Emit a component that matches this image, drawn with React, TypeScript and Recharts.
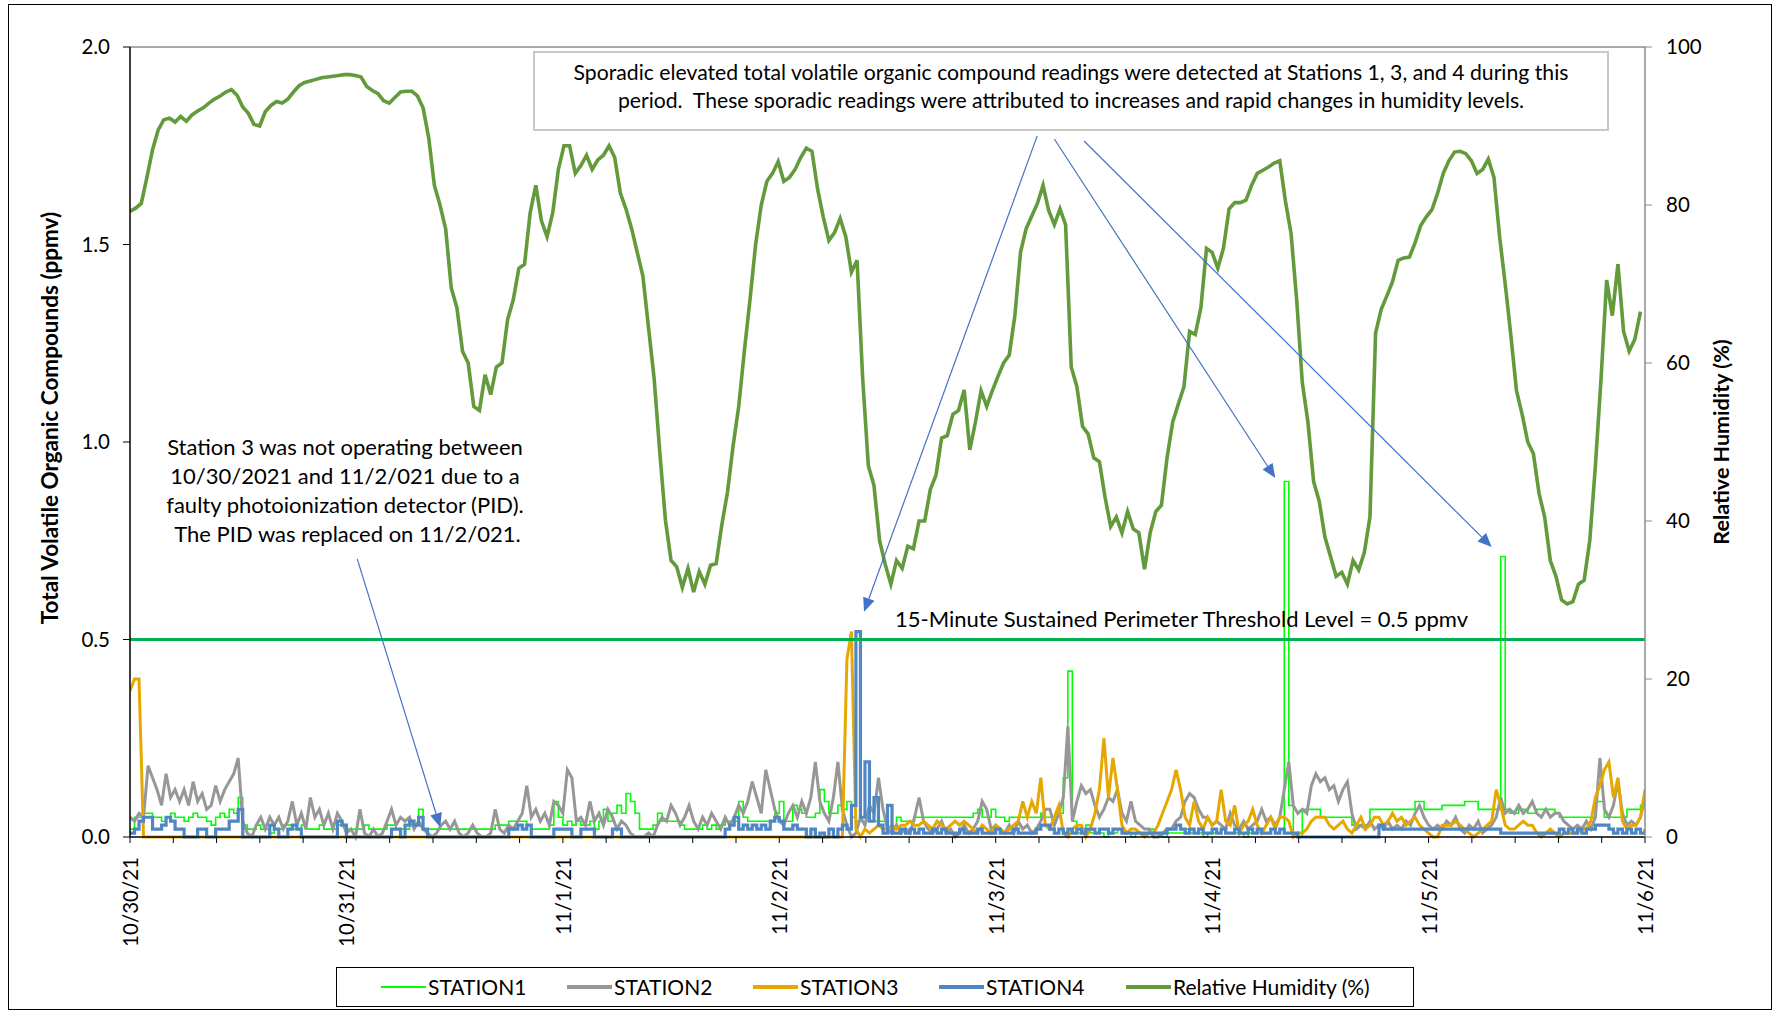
import { LineChart, Line, XAxis, YAxis, ReferenceLine } from 'recharts'

const dayLabels = ['10/30/21', '10/31/21', '11/1/21', '11/2/21', '11/3/21', '11/4/21', '11/5/21', '11/6/21']
const ppmvTicks = [0, 0.5, 1, 1.5, 2]
const rhTicks = [0, 20, 40, 60, 80, 100]
const threshold = 0.5

// station readings every 30 min from 10/30 00:00, in hundredths of a ppmv
const station1 = [
  2, 5, 5, 6, 6, 5, 5, 4, 5, 6,
  5, 5, 4, 5, 6, 5, 5, 4, 3, 5,
  6, 5, 7, 6, 10, 3, 2, 2, 3, 2,
  2, 1, 2, 2, 3, 3, 2, 2, 3, 2,
  2, 2, 3, 2, 2, 2, 3, 3, 2, 2,
  2, 2, 3, 2, 2, 2, 2, 3, 3, 2,
  2, 2, 3, 3, 7, 2, 2, 2, 2, 2,
  2, 2, 2, 2, 2, 2, 2, 2, 2, 2,
  2, 3, 3, 3, 4, 4, 4, 4, 3, 2,
  2, 2, 2, 3, 9, 5, 3, 4, 3, 4,
  3, 3, 4, 2, 4, 7, 4, 6, 8, 6,
  11, 9, 6, 2, 2, 2, 3, 6, 4, 4,
  4, 4, 3, 2, 2, 2, 2, 3, 2, 3,
  2, 3, 4, 4, 4, 9, 5, 4, 4, 4,
  4, 4, 4, 6, 9, 4, 4, 8, 7, 6,
  5, 5, 6, 12, 9, 6, 6, 8, 7, 9,
  5, 4, 4, 4, 4, 4, 4, 4, 1, 2,
  5, 4, 4, 4, 5, 5, 5, 5, 5, 5,
  5, 5, 5, 5, 5, 5, 5, 6, 7, 5,
  5, 7, 5, 5, 4, 5, 5, 5, 5, 5,
  5, 5, 6, 5, 5, 5, 6, 15, 42, 4,
  1, 1, 3, 1, 1, 1, 0, 1, 1, 2,
  1, 1, 0, 1, 1, 1, 2, 1, 1, 0,
  1, 1, 1, 1, 2, 1, 1, 1, 0, 1,
  1, 1, 2, 1, 1, 1, 1, 0, 1, 1,
  1, 1, 1, 2, 1, 2, 90, 8, 1, 0,
  7, 7, 7, 7, 5, 5, 5, 5, 5, 5,
  5, 3, 3, 3, 3, 7, 7, 7, 7, 7,
  7, 7, 7, 7, 7, 9, 9, 7, 7, 7,
  7, 8, 8, 8, 8, 8, 9, 9, 9, 7,
  7, 7, 7, 7, 71, 7, 6, 6, 7, 7,
  6, 6, 7, 7, 7, 7, 6, 5, 5, 5,
  5, 5, 5, 5, 5, 9, 9, 5, 5, 5,
  5, 5, 7, 7, 7, 8, 9,
]

const station2 = [
  5, 4, 6, 5, 18, 15, 12, 8, 16, 10,
  12, 9, 12, 8, 14, 9, 11, 7, 8, 13,
  9, 12, 14, 16, 20, 4, 1, 0, 3, 5,
  2, 5, 3, 5, 2, 4, 9, 3, 6, 2,
  10, 5, 7, 3, 6, 2, 6, 4, 1, 2,
  0, 7, 1, 0, 2, 0, 1, 4, 7, 3,
  5, 4, 5, 2, 4, 2, 1, 0, 1, 3,
  4, 2, 4, 1, 0, 1, 3, 1, 0, 0,
  1, 7, 2, 1, 3, 2, 4, 6, 13, 5,
  7, 4, 6, 3, 9, 8, 6, 17, 15, 4,
  5, 3, 9, 4, 6, 3, 7, 5, 2, 4,
  3, 1, 0, 0, 0, 1, 0, 3, 5, 4,
  8, 6, 3, 5, 8, 4, 2, 5, 3, 6,
  4, 2, 5, 3, 5, 8, 6, 9, 14, 10,
  6, 17, 12, 7, 4, 3, 6, 8, 5, 9,
  6, 10, 19, 9, 6, 4, 10, 19, 7, 3,
  0, 1, 5, 3, 8, 6, 15, 7, 2, 1,
  3, 1, 2, 1, 5, 10, 4, 2, 1, 2,
  4, 1, 2, 0, 1, 3, 1, 2, 4, 9,
  7, 2, 3, 2, 1, 3, 1, 4, 2, 3,
  1, 2, 4, 7, 7, 3, 6, 10, 28, 4,
  9, 13, 11, 12, 8, 5, 7, 10, 9, 12,
  6, 4, 9, 4, 3, 2, 2, 0, 0, 1,
  2, 2, 4, 5, 9, 11, 10, 7, 5, 5,
  3, 4, 3, 2, 6, 3, 2, 4, 2, 3,
  4, 7, 4, 5, 3, 5, 12, 19, 8, 6,
  7, 6, 13, 16, 14, 15, 12, 13, 9, 12,
  14, 6, 2, 3, 2, 4, 2, 3, 2, 4,
  2, 3, 2, 4, 3, 6, 8, 5, 3, 2,
  3, 2, 4, 3, 5, 2, 1, 3, 2, 4,
  1, 2, 3, 5, 10, 6, 7, 6, 8, 6,
  7, 9, 6, 5, 7, 5, 6, 6, 4, 3,
  2, 3, 2, 4, 2, 5, 20, 7, 5, 8,
  14, 6, 3, 4, 3, 5, 10,
]

// station 3 was down from 10/30 to 11/2 and reads 0 there
const station3 = [
  37, 40, 40, 0,
  0, 0, 0, 0, 0, 0, 0, 0, 0, 0,
  0, 0, 0, 0, 0, 0, 0, 0, 0, 0,
  0, 0, 0, 0, 0, 0, 0, 0, 0, 0,
  0, 0, 0, 0, 0, 0, 0, 0, 0, 0,
  0, 0, 0, 0, 0, 0, 0, 0, 0, 0,
  0, 0, 0, 0, 0, 0, 0, 0, 0, 0,
  0, 0, 0, 0, 0, 0, 0, 0, 0, 0,
  0, 0, 0, 0, 0, 0, 0, 0, 0, 0,
  0, 0, 0, 0, 0, 0, 0, 0, 0, 0,
  0, 0, 0, 0, 0, 0, 0, 0, 0, 0,
  0, 0, 0, 0, 0, 0, 0, 0, 0, 0,
  0, 0, 0, 0, 0, 0, 0, 0, 0, 0,
  0, 0, 0, 0, 0, 0, 0, 0, 0, 0,
  0, 0, 0, 0, 0, 0, 0, 0, 0, 0,
  0, 0, 0, 0, 0, 0, 0, 0, 0, 0,
  0, 0, 0, 0, 0,
  45, 52, 2, 0, 2, 1, 2, 3, 2,
  2, 3, 2, 3, 3, 4, 3, 3, 4, 3,
  2, 4, 3, 2, 3, 4, 3, 4, 3, 2,
  1, 3, 2, 1, 3, 2, 1, 2, 3, 4,
  9, 5, 9, 6, 15, 3, 2, 5, 8, 1,
  0, 2, 3, 3, 0, 2, 6, 12, 25, 10,
  20, 12, 3, 1, 2, 2, 1, 0, 1, 1,
  3, 6, 9, 12, 17, 12, 5, 3, 9, 4,
  2, 5, 3, 4, 12, 4, 3, 8, 1, 3,
  4, 7, 3, 1,
  3, 5, 2, 5, 5, 4, 0, 1, 1, 2,
  4, 5, 5, 5, 3, 2, 3, 4, 2, 1,
  3, 5, 2, 3, 5, 5, 3, 4, 6, 4,
  5, 3, 4, 5, 3, 2, 1, 0, 0, 3,
  3, 3, 4, 3, 2, 1, 0, 1, 2, 3,
  4, 12, 8, 3, 2, 2, 3, 4, 3, 3,
  1, 0, 1, 2, 1, 0, 1, 1, 1, 1,
  2, 2, 4, 10, 13, 17, 19, 10, 15, 4,
  2, 3, 3, 5, 12,
]

const station4 = [
  1, 2, 4, 5, 5, 2, 2, 3, 5, 4,
  2, 2, 0, 0, 0, 2, 2, 0, 0, 2,
  2, 2, 4, 4, 7, 0, 0, 0, 0, 0,
  0, 3, 2, 0, 0, 2, 3, 2, 0, 0,
  0, 0, 0, 0, 0, 0, 4, 3, 0, 0,
  0, 0, 0, 0, 0, 0, 0, 0, 2, 2,
  0, 3, 4, 3, 5, 2, 0, 0, 0, 0,
  0, 0, 0, 0, 0, 0, 0, 0, 0, 0,
  0, 0, 0, 0, 2, 2, 3, 2, 3, 0,
  0, 0, 0, 0, 2, 2, 2, 2, 0, 0,
  2, 2, 2, 0, 0, 0, 0, 2, 2, 0,
  0, 0, 0, 0, 0, 0, 0, 0, 0, 0,
  0, 0, 0, 0, 0, 0, 0, 0, 0, 0,
  0, 0, 2, 3, 5, 2, 3, 2, 3, 2,
  3, 2, 4, 5, 4, 2, 2, 3, 2, 2,
  0, 2, 0, 1, 0, 2, 0, 2, 3, 2,
  8, 52, 5, 19, 4, 10, 3, 1, 8, 1,
  1, 2, 1, 2, 1, 2, 1, 1, 2, 1,
  2, 1, 1, 1, 2, 1, 1, 1, 2, 1,
  1, 1, 2, 1, 1, 1, 2, 1, 1, 1,
  1, 2, 3, 3, 2, 1, 2, 1, 2, 1,
  2, 1, 2, 2, 1, 2, 2, 1, 2, 2,
  1, 1, 1, 1, 1, 1, 1, 1, 1, 1,
  2, 2, 3, 2, 1, 2, 1, 2, 1, 1,
  2, 1, 2, 1, 1, 2, 1, 1, 2, 1,
  2, 1, 1, 2, 1, 2, 1, 1, 1, 0,
  0, 0, 0, 0, 0, 0, 0, 0, 0, 0,
  0, 0, 0, 0, 0, 0, 0, 3, 2, 2,
  2, 2, 2, 2, 2, 2, 2, 2, 2, 2,
  2, 2, 2, 2, 2, 2, 2, 2, 2, 2,
  2, 2, 2, 2, 1, 1, 1, 1, 1, 1,
  1, 1, 1, 1, 1, 1, 1, 2, 1, 2,
  1, 2, 1, 2, 2, 3, 3, 3, 2, 1,
  2, 1, 2, 1, 2, 1, 2,
]

// relative humidity (%) every 37.5 min from 10/30 00:00
const humidity = [
  79.2, 79.6, 80.2, 83.5, 87, 89.5, 90.8, 91, 90.5, 91.2,
  90.6, 91.4, 91.9, 92.3, 92.9, 93.4, 93.8, 94.3, 94.6, 93.9,
  92.4, 91.6, 90.2, 90, 91.8, 92.6, 93.1, 92.9, 93.4, 94.3,
  95.1, 95.5, 95.7, 95.9, 96.1, 96.2, 96.3, 96.4, 96.5, 96.5,
  96.4, 96.2, 95, 94.5, 94.1, 93.2, 92.9, 93.6, 94.3, 94.4,
  94.4, 93.8, 92.3, 88.5, 82.5, 80, 77, 69.5, 67, 61.5,
  60, 54.5, 54, 58.5, 56, 59.5, 60, 65.5, 68, 72,
  72.5, 79, 82.5, 78, 76, 79, 84.5, 87.5, 87.5, 84,
  85, 86.3, 84.5, 85.7, 86.3, 87.5, 86, 81.5, 79.5, 77,
  74, 71, 64.5, 58, 48.7, 40.1, 35, 34.2, 31.6, 34,
  31, 33.6, 32, 34.4, 34.6, 39.5, 43.6, 49.5, 54.5, 61.5,
  68, 75, 80, 83, 84, 85.5, 83, 83.5, 84.5, 86,
  87.2, 86.8, 82, 78.5, 75.5, 76.5, 78.3, 76, 71.5, 73,
  58, 47, 44.5, 37.5, 34.5, 32, 35, 34, 36.8, 36.5,
  40, 40, 44, 45.8, 50.5, 50.8, 53.5, 54, 56.6, 49,
  52.5, 56.5, 54.5, 56.5, 58.3, 60, 61, 66, 74, 77,
  78.6, 80.2, 82.5, 79.3, 77.5, 79.5, 77.5, 59.5, 57, 52,
  51, 48, 47.5, 43, 39.3, 40.5, 38.5, 41.2, 39, 38.5,
  33.9, 38.5, 41.2, 42, 48, 52.5, 54.8, 57, 64, 63.6,
  67, 74.5, 74, 72, 74.5, 79.5, 80.3, 80.3, 80.6, 82.5,
  84, 84.4, 84.8, 85.3, 85.6, 80.5, 76.4, 68, 57.5, 52.5,
  45, 42.5, 38, 35.5, 33, 33.5, 32, 35, 33.8, 36,
  40.5, 63.8, 66.8, 68.5, 70.3, 73, 73.3, 73.4, 75.2, 77.4,
  78.5, 79.4, 81.5, 84, 85.6, 86.7, 86.8, 86.5, 85.6, 84,
  84.5, 85.8, 83.5, 76, 70, 63.5, 56.5, 53.5, 50, 48.5,
  43.5, 40.5, 35, 33, 30, 29.5, 29.8, 32, 32.5, 37.5,
  47, 58, 70.5, 66, 72.5, 64, 61.5, 63, 66.5,
]

// callout arrows, [hour, ppmv] from -> to
const arrows = [
  { from: [25.2, 0.704], to: [34.4, 0.025] },
  { from: [100.6, 1.775], to: [81.4, 0.57] },
  { from: [102.5, 1.767], to: [127.0, 0.909] },
  { from: [105.8, 1.762], to: [151.0, 0.734] },
]

const stationRows = station1.map((v, i) => ({
  t: i * 0.5,
  s1: v / 100,
  s2: station2[i] / 100,
  s3: station3[i] / 100,
  s4: station4[i] / 100,
}))
const rhRows = humidity.map((v, i) => ({ t: i * 0.625, rh: v }))

const xTicks = Array.from({ length: 36 }, (_, k) => Math.round(k * 48) / 10)

const FONT = 'Lato, "DejaVu Sans", sans-serif'
const TICK_SIZE = 20.5

const DateTick = (props: any) => {
  const { x, y, payload } = props
  const day = payload.value / 24
  if (Math.abs(day - Math.round(day)) > 0.001) return <g />
  return (
    <text
      x={x}
      y={y}
      transform={`rotate(-90 ${x} ${y})`}
      textAnchor='end'
      dominantBaseline='central'
      fontSize={TICK_SIZE}
      fontFamily={FONT}
      fill='#000'
    >
      {dayLabels[Math.round(day)]}
    </text>
  )
}

const Arrow = (props: any) => {
  const { x1, y1, x2, y2 } = props
  const a = Math.atan2(y2 - y1, x2 - x1)
  const len = 14
  const half = 6
  const bx = x2 - len * Math.cos(a)
  const by = y2 - len * Math.sin(a)
  const p1 = `${bx + half * Math.sin(a)},${by - half * Math.cos(a)}`
  const p2 = `${bx - half * Math.sin(a)},${by + half * Math.cos(a)}`
  return (
    <g>
      <line x1={x1} y1={y1} x2={bx} y2={by} stroke='#4472C4' strokeWidth={1.2} />
      <polygon points={`${x2},${y2} ${p1} ${p2}`} fill='#4472C4' />
    </g>
  )
}

const legendItems = [
  { name: 'STATION1', color: '#00FF00', width: 2, x: 380 },
  { name: 'STATION2', color: '#979797', width: 4, x: 566 },
  { name: 'STATION3', color: '#E6A800', width: 4, x: 752 },
  { name: 'STATION4', color: '#5087C2', width: 4, x: 938 },
  { name: 'Relative Humidity (%)', color: '#629A3C', width: 4, x: 1125 },
]

const App = (): JSX.Element => {
  return (
    <div
      style={{
        position: 'absolute',
        left: 0,
        top: 0,
        width: 1774,
        height: 1013,
        background: '#fff',
        fontFamily: FONT,
        color: '#000',
      }}
    >
      <div style={{ position: 'absolute', left: 0, top: 0 }}>
        <LineChart width={1774} height={1013} margin={{ top: 47, right: 0, bottom: 146, left: 0 }}>
          <XAxis
            dataKey='t'
            type='number'
            domain={[0, 168]}
            ticks={xTicks}
            interval={0}
            height={30}
            tickSize={6}
            tickMargin={14}
            tick={<DateTick />}
            tickLine={{ stroke: '#000' }}
            axisLine={{ stroke: '#000', strokeWidth: 1.5 }}
            allowDataOverflow
          />
          <YAxis
            yAxisId='left'
            domain={[0, 2]}
            ticks={ppmvTicks}
            width={130}
            tickSize={7}
            tickMargin={13}
            tickFormatter={(v: number) => v.toFixed(1)}
            tick={{ fontSize: TICK_SIZE, fill: '#000', fontFamily: FONT }}
            tickLine={{ stroke: '#000' }}
            axisLine={{ stroke: '#000', strokeWidth: 1.5 }}
          />
          <YAxis
            yAxisId='right'
            orientation='right'
            domain={[0, 100]}
            ticks={rhTicks}
            width={129}
            tickSize={7}
            tickMargin={14}
            tick={{ fontSize: TICK_SIZE, fill: '#000', fontFamily: FONT }}
            tickLine={{ stroke: '#8c8c8c' }}
            axisLine={{ stroke: '#8c8c8c', strokeWidth: 1.5 }}
          />
          <ReferenceLine yAxisId='left' y={2} stroke='#8c8c8c' strokeWidth={1.5} />
          <Line data={stationRows} dataKey='s1' yAxisId='left' type='stepAfter' stroke='#00FF00' strokeWidth={1.6} dot={false} isAnimationActive={false} />
          <Line data={stationRows} dataKey='s2' yAxisId='left' type='linear' stroke='#979797' strokeWidth={3} dot={false} isAnimationActive={false} />
          <Line data={stationRows} dataKey='s3' yAxisId='left' type='linear' stroke='#E6A800' strokeWidth={3} dot={false} isAnimationActive={false} />
          <Line data={stationRows} dataKey='s4' yAxisId='left' type='stepAfter' stroke='#5087C2' strokeWidth={3.2} dot={false} isAnimationActive={false} />
          <Line data={rhRows} dataKey='rh' yAxisId='right' type='linear' stroke='#629A3C' strokeWidth={3.6} dot={false} isAnimationActive={false} />
          <ReferenceLine yAxisId='left' y={threshold} stroke='#00B050' strokeWidth={3} />
          {arrows.map((a, i) => (
            <ReferenceLine
              key={`arrow-${i}`}
              yAxisId='left'
              segment={[
                { x: a.from[0], y: a.from[1] },
                { x: a.to[0], y: a.to[1] },
              ]}
              shape={<Arrow />}
            />
          ))}
        </LineChart>
      </div>

      {/* outer frame */}
      <div
        style={{
          position: 'absolute',
          left: 8,
          top: 4,
          width: 1762,
          height: 1004,
          border: '1.5px solid #000',
          pointerEvents: 'none',
        }}
      />

      {/* axis titles */}
      <div
        style={{
          position: 'absolute',
          left: 49,
          top: 418,
          transform: 'translate(-50%, -50%) rotate(-90deg)',
          whiteSpace: 'nowrap',
          fontWeight: 700,
          fontSize: 22.5,
        }}
      >
        Total Volatile Organic Compounds (ppmv)
      </div>
      <div
        style={{
          position: 'absolute',
          left: 1721,
          top: 442,
          transform: 'translate(-50%, -50%) rotate(-90deg)',
          whiteSpace: 'nowrap',
          fontWeight: 700,
          fontSize: 21.5,
        }}
      >
        Relative Humidity (%)
      </div>

      {/* callout box */}
      <div
        style={{
          position: 'absolute',
          left: 533,
          top: 51,
          width: 1072,
          height: 71,
          border: '2px solid #C8C8C8',
          background: '#fff',
          textAlign: 'center',
          fontSize: 21.2,
          lineHeight: '28px',
          paddingTop: 5,
          boxSizing: 'content-box',
          whiteSpace: 'pre',
        }}
      >
        <div>Sporadic elevated total volatile organic compound readings were detected at Stations 1, 3, and 4 during this</div>
        <div>period.  These sporadic readings were attributed to increases and rapid changes in humidity levels.</div>
      </div>

      <div
        style={{
          position: 'absolute',
          left: 125,
          top: 432,
          width: 440,
          textAlign: 'center',
          fontSize: 22,
          lineHeight: '29px',
          whiteSpace: 'nowrap',
        }}
      >
        <div>Station 3 was not operating between</div>
        <div>10/30/2021 and 11/2/021 due to a</div>
        <div>faulty photoionization detector (PID).</div>
        <div>&nbsp;The PID was replaced on 11/2/021.</div>
      </div>

      <div
        style={{
          position: 'absolute',
          left: 895,
          top: 605,
          fontSize: 22,
          lineHeight: '28px',
          whiteSpace: 'nowrap',
        }}
      >
        15-Minute Sustained Perimeter Threshold Level = 0.5 ppmv
      </div>

      {/* legend */}
      <div
        style={{
          position: 'absolute',
          left: 336,
          top: 967,
          width: 1078,
          height: 40,
          border: '1.5px solid #000',
          boxSizing: 'border-box',
          background: '#fff',
        }}
      >
        {legendItems.map((it) => (
          <div
            key={it.name}
            style={{
              position: 'absolute',
              left: it.x - 336,
              top: 0,
              height: 37,
              display: 'flex',
              alignItems: 'center',
              whiteSpace: 'nowrap',
              fontSize: 21,
            }}
          >
            <span style={{ display: 'inline-block', width: 45, height: it.width, background: it.color, marginRight: 2 }} />
            <span>{it.name}</span>
          </div>
        ))}
      </div>
    </div>
  )
}

export default App
